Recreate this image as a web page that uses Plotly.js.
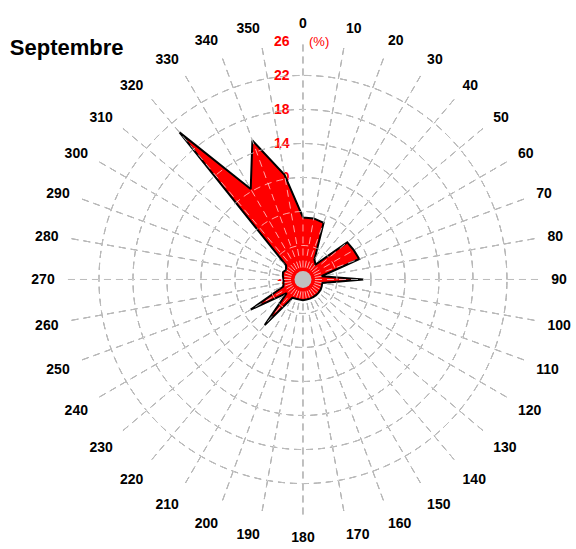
<!DOCTYPE html>
<html>
<head>
<meta charset="utf-8">
<script src="https://cdn.plot.ly/plotly-3.0.1.min.js"></script>
<style>html,body{margin:0;padding:0;background:#fff;}#chart{width:576px;height:549px;}</style>
</head>
<body>
<div id="chart"></div>
<script>
// Wind direction (degrees) and frequency (%) - Septembre
const directions = [0,10,20,30,40,50,60,70,80,90,100,110,120,130,140,150,160,170,
                    180,190,200,210,220,230,240,250,260,270,280,290,300,310,320,330,340,350];
const frequency  = [5.3,5.3,5.1,0.7,0.3,4.8,4.9,5.05,0.2,5.1,0.3,0.35,0.4,0.4,0.4,0.4,0.4,0.4,
                    0.45,0.4,0.4,0.5,5.0,0.5,5.1,0.5,0.3,0.3,0.4,0.5,0.3,0.6,20.6,10.3,15.4,10.5];
const radialTicks = [-2,2,6,10,14,18,22,26];
const angleTicks = [0,10,20,30,40,50,60,70,80,90,100,110,120,130,140,150,160,170,
                    180,190,200,210,220,230,240,250,260,270,280,290,300,310,320,330,340,350];
const calmCentre = [-2];

const rRange = [-2, 26];
const dom = {x:[0.1128,0.9392], y:[0.0574,0.9244]};
const font = 'Liberation Sans, Arial, sans-serif';
const dash = '7px,5px';

const traces = [
  { // base subplot carrier (invisible)
    type:'scatterpolar', subplot:'polar', mode:'markers',
    r: calmCentre, theta:[0], marker:{opacity:0, size:1},
    hoverinfo:'skip', showlegend:false
  },
  {
    type:'scatterpolar', subplot:'polar2', mode:'lines',
    r: frequency.concat([frequency[0]]),
    theta: directions.concat([directions[0]]),
    fill:'toself', fillcolor:'#ff0000',
    line:{color:'#000000', width:2},
    hoverinfo:'skip', showlegend:false
  },
  {
    type:'scatterpolar', subplot:'polar3', mode:'markers',
    r: calmCentre, theta:[0],
    marker:{color:'#c0c0c0', size:17, line:{width:0}},
    hoverinfo:'skip', showlegend:false
  }
];

const baseAng = {rotation:90, direction:'clockwise'};
const layout = {
  width:576, height:549,
  margin:{l:0,r:0,t:0,b:0},
  paper_bgcolor:'#fff',
  showlegend:false,
  title:{text:'Septembre', x:0.017, xanchor:'left', y:0.914, yanchor:'middle',
         font:{family:font, size:22, color:'#000', weight:'bold'}},
  polar:{
    domain:dom, bgcolor:'#fff',
    radialaxis:{range:rRange, tickvals:radialTicks, ticktext:radialTicks.map(String),
      angle:90, tickangle:90, side:'counterclockwise', showline:false,
      ticks:'outside', ticklen:8, tickcolor:'rgba(0,0,0,0)',
      tickfont:{family:font, size:14, color:'#ff0000', weight:'bold'},
      showgrid:true, gridcolor:'#454545', griddash:dash, gridwidth:1},
    angularaxis:Object.assign({}, baseAng, {tickvals:angleTicks, ticktext:angleTicks.map(String),
      showline:false, ticks:'outside', ticklen:7, tickcolor:'rgba(0,0,0,0)',
      tickfont:{family:font, size:14, color:'#000', weight:'bold'},
      showgrid:true, gridcolor:'#454545', griddash:dash, gridwidth:1})
  },
  polar2:{
    domain:dom, bgcolor:'rgba(0,0,0,0)',
    radialaxis:{range:rRange, visible:false},
    angularaxis:Object.assign({}, baseAng, {visible:false})
  },
  polar3:{
    domain:dom, bgcolor:'rgba(0,0,0,0)',
    radialaxis:{range:rRange, tickvals:radialTicks, angle:90, showline:false, showticklabels:false, ticks:'',
      showgrid:true, gridcolor:'rgba(255,255,255,0.65)', griddash:dash, gridwidth:1},
    angularaxis:Object.assign({}, baseAng, {tickvals:angleTicks, showline:false, showticklabels:false, ticks:'',
      showgrid:true, gridcolor:'rgba(255,255,255,0.65)', griddash:dash, gridwidth:1})
  },
  annotations:[{text:'(%)', xref:'paper', yref:'paper', x:0.554, y:0.924, xanchor:'center', yanchor:'middle',
    showarrow:false, font:{family:font, size:13, color:'#ff0000'}}]
};

Plotly.newPlot('chart', traces, layout, {staticPlot:true, displayModeBar:false});
</script>
</body>
</html>
